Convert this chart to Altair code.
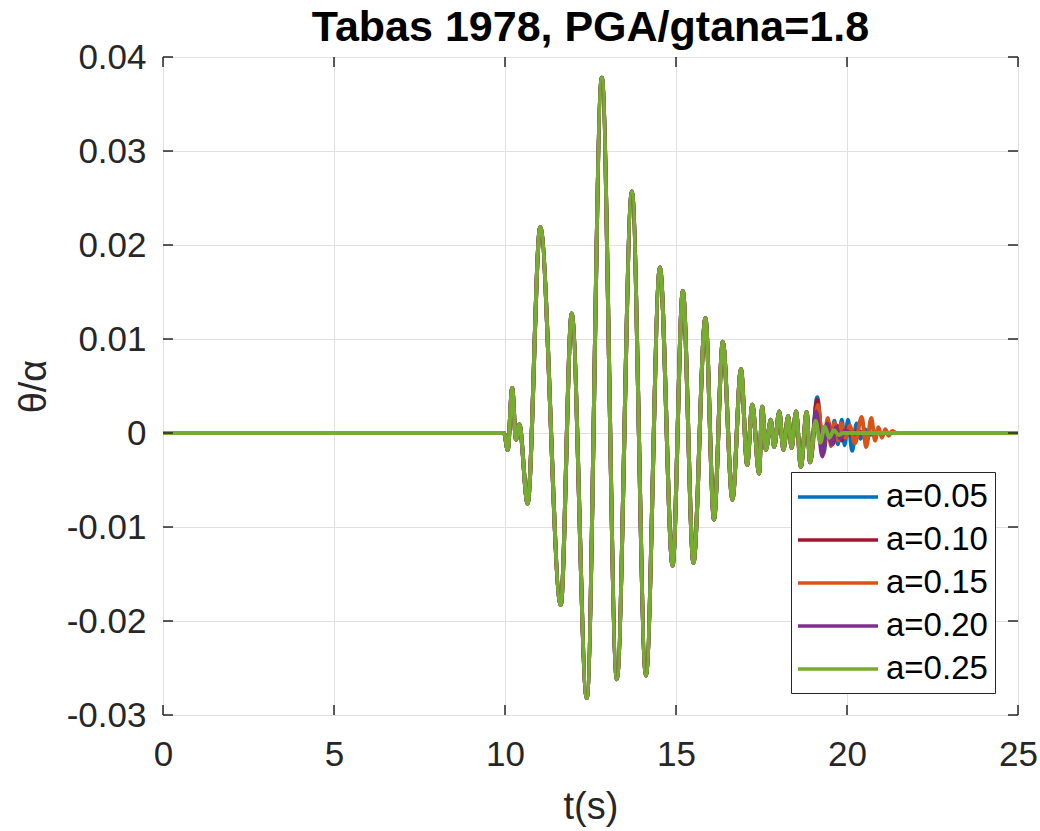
import altair as alt
import pandas as pd

SERIES = ["a=0.05", "a=0.10", "a=0.15", "a=0.20", "a=0.25"]
COLORS = ["#0072BD", "#A2142F", "#D95319", "#7E2F8E", "#77AC30"]

# common part of all five responses (extrema)
BASE_T = [0.0, 9.97, 10.08, 10.21, 10.32, 10.42, 10.66, 11.03, 11.63, 11.95, 12.39,
          12.83, 13.27, 13.71, 14.12, 14.53, 14.90, 15.20, 15.51, 15.86, 16.11,
          16.37, 16.65, 16.90, 17.08, 17.23, 17.43, 17.52, 17.63, 17.77, 17.87,
          18.02, 18.14, 18.28, 18.38, 18.51, 18.65, 18.82, 18.92]
BASE_V = [0.0, 0.0, -0.0018, 0.0048, -0.0007, 0.0009, -0.0075, 0.0219, -0.0183, 0.0127, -0.0282,
          0.0378, -0.0262, 0.0257, -0.0258, 0.0176, -0.0141, 0.0151, -0.0138, 0.0122, -0.0092,
          0.0097, -0.0071, 0.0068, -0.0034, 0.0030, -0.0043, 0.0028, -0.0018, 0.0014, -0.0015,
          0.0023, -0.0018, 0.0018, -0.0016, 0.0023, -0.0036, 0.0022, -0.0031]

# tails that differ between the series
TAIL_T_005 = [19.13, 19.31, 19.45, 19.55, 19.63, 19.73, 19.85, 19.93, 20.03, 20.15, 20.28,
              20.40, 20.52, 20.65, 20.80, 25.0]
TAIL_V_005 = [0.0038, -0.0022, 0.0010, -0.0008, 0.0013, -0.0012, 0.0014, -0.0013, 0.0014, -0.0019, 0.0010,
              -0.0006, 0.0004, -0.0002, 0.0, 0.0]
TAIL_T_010 = [19.13, 19.30, 19.45, 19.58, 19.70, 19.85, 20.00, 20.15, 20.30, 20.50, 25.0]
TAIL_V_010 = [0.0035, -0.0018, 0.0012, -0.0012, 0.0008, -0.0008, 0.0005, -0.0004, 0.0002, 0.0, 0.0]
TAIL_T_015 = [19.15, 19.30, 19.44, 19.53, 19.63, 19.75, 19.83, 19.95, 20.08, 20.23, 20.43,
              20.56, 20.71, 20.82, 20.92, 21.02, 21.12, 21.22, 21.32, 21.45, 25.0]
TAIL_V_015 = [0.0030, -0.0015, 0.0016, -0.0014, 0.0011, -0.0008, 0.0010, -0.0005, 0.0008, -0.0011, 0.0017,
              -0.0015, 0.0016, -0.0008, 0.0006, -0.0005, 0.0004, -0.0003, 0.0002, 0.0, 0.0]
TAIL_T_020 = [19.10, 19.28, 19.42, 19.55, 19.68, 19.80, 19.95, 20.10, 25.0]
TAIL_V_020 = [0.0023, -0.0025, 0.0010, -0.0012, 0.0006, -0.0006, 0.0003, 0.0, 0.0]
TAIL_T_025 = [19.08, 19.22, 19.35, 19.48, 19.62, 19.75, 19.90, 25.0]
TAIL_V_025 = [0.0013, -0.0010, 0.0007, -0.0005, 0.0003, -0.0002, 0.0, 0.0]

TAILS = [(TAIL_T_005, TAIL_V_005), (TAIL_T_010, TAIL_V_010), (TAIL_T_015, TAIL_V_015),
         (TAIL_T_020, TAIL_V_020), (TAIL_T_025, TAIL_V_025)]

X_TICKS = [0, 5, 10, 15, 20, 25]
Y_TICKS = [-0.03, -0.02, -0.01, 0.0, 0.01, 0.02, 0.03, 0.04]

rows = []
for name, (tt, tv) in zip(SERIES, TAILS):
    for t, v in zip(BASE_T + tt, BASE_V + tv):
        rows.append({"series": name, "t": t, "v": v})
df = pd.DataFrame(rows)

W, H = 855, 658
FONT = "Liberation Sans"
AX = "#262626"

x_enc = alt.X("t:Q", scale=alt.Scale(domain=[0, 25], nice=False),
              axis=alt.Axis(values=X_TICKS, title="t(s)", grid=True, gridColor="#e0e0e0",
                            gridWidth=1, ticks=False, domain=False, labelFontSize=35,
                            labelFont=FONT, labelColor=AX, labelPadding=22, labelFlush=False,
                            titleFont=FONT, titleFontSize=38, titleFontWeight="normal",
                            titleColor=AX, titleBaseline="alphabetic", titleY=103,
                            titleX=W / 2, titleAlign="center"))
y_enc = alt.Y("v:Q", scale=alt.Scale(domain=[-0.03, 0.04], nice=False, zero=False),
              axis=alt.Axis(values=Y_TICKS, title="θ/α", grid=True, gridColor="#e0e0e0",
                            gridWidth=1, ticks=False, domain=False, labelFontSize=35,
                            labelFont=FONT, labelColor=AX, labelPadding=17, labelFlush=False,
                            labelExpr="abs(datum.value) < 1e-9 ? '0' : (datum.value < 0 ? '-' : '') + format(abs(datum.value), '.2f')",
                            titleFont=FONT, titleFontSize=38, titleFontWeight="normal",
                            titleColor=AX, titleBaseline="alphabetic", titleX=-118,
                            titleY=H / 2, titleAlign="center", titleAngle=-90))

color_enc = alt.Color("series:N", scale=alt.Scale(domain=SERIES, range=COLORS),
                      legend=alt.Legend(title=None, orient="none", legendX=628, legendY=415,
                                        symbolType="M-2.5,0L2.5,0", symbolSize=1024,
                                        symbolOffset=22,
                                        symbolStrokeWidth=3.5, labelFontSize=33,
                                        labelFont=FONT, labelColor="black", labelOffset=30,
                                        fillColor="white", strokeColor=AX, padding=7,
                                        rowPadding=8, cornerRadius=0))

layers = []
for s in SERIES:
    layers.append(
        alt.Chart(df).transform_filter(alt.datum.series == s)
        .mark_line(strokeWidth=4, interpolate="monotone")
        .encode(x=x_enc, y=y_enc, color=color_enc)
    )

xt = pd.DataFrame({"t": X_TICKS})
yt = pd.DataFrame({"v": Y_TICKS})
tick_style = dict(color=AX, strokeWidth=1.5)
layers.append(alt.Chart(xt).mark_rule(**tick_style).encode(x=x_enc, y=alt.value(H), y2=alt.value(H - 10)))
layers.append(alt.Chart(xt).mark_rule(**tick_style).encode(x=x_enc, y=alt.value(0), y2=alt.value(10)))
layers.append(alt.Chart(yt).mark_rule(**tick_style).encode(y=y_enc, x=alt.value(0), x2=alt.value(10)))
layers.append(alt.Chart(yt).mark_rule(**tick_style).encode(y=y_enc, x=alt.value(W), x2=alt.value(W - 10)))

chart = alt.layer(*layers).properties(
    width=W, height=H,
    title=alt.TitleParams("Tabas 1978, PGA/gtana=1.8", font=FONT, fontSize=43,
                          fontWeight="bold", color="black", anchor="middle", offset=15, dy=25),
    autosize=alt.AutoSizeParams(type="none"),
    padding={"left": 163, "top": 57, "right": 22, "bottom": 116},
).configure_view(stroke=AX, strokeWidth=2).configure(background="white")

chart.save("out.html", embed_options={"renderer": "svg", "actions": False})
